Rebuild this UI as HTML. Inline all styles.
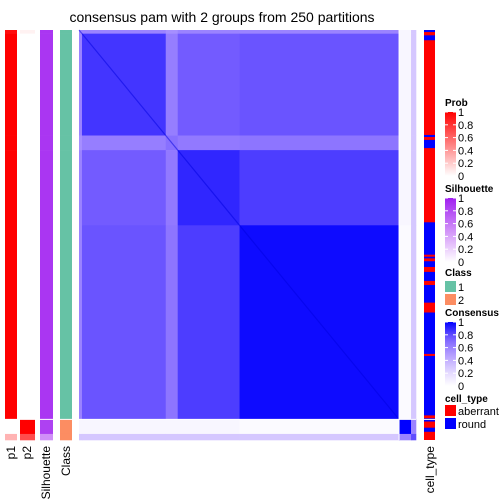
<!DOCTYPE html>
<html><head><meta charset="utf-8"><style>
body{margin:0;background:#fff;}
svg{display:block;font-family:"Liberation Sans",sans-serif;}
</style></head><body>
<svg id="c" width="504" height="504" xmlns="http://www.w3.org/2000/svg">
<text x="222" y="22" font-size="14" text-anchor="middle">consensus pam with 2 groups from 250 partitions</text>
<g id="hm"></g>
<g id="ann"></g>
<g id="leg"></g>
</svg>
<script>
// segment sizes (sample counts) in order
const segSizes = [3, 84, 12, 62, 160, 12, 5];
const segNames = ['a0','a','s','b','c','d','e'];
// consensus between segments
const consensus = [
 [0.6,0.6,0.55,0.6,0.6,0.05,0.3],
 [0.6,0.86,0.62,0.76,0.78,0.05,0.3],
 [0.55,0.62,0.68,0.64,0.66,0.05,0.3],
 [0.6,0.76,0.64,0.9,0.84,0.05,0.3],
 [0.6,0.78,0.66,0.84,0.97,0.03,0.3],
 [0.05,0.05,0.05,0.05,0.03,1.0,0.6],
 [0.3,0.3,0.3,0.3,0.3,0.6,0.8]
];
const p1Vals = [0.95,1,1,1,1,0,0.3];
const p2Vals = [0.05,0,0,0,0,1,0.7];
const silVals = [0.9,0.9,0.9,0.9,0.9,0.85,0.5];
const classVals = [1,1,1,1,1,2,2];
const cellTypeBlue = [[0,0.005],[0.013,0.025],[0.256,0.261],[0.268,0.288],[0.469,1]];
const cellTypeRed = [[0.548,0.553],[0.557,0.564],[0.578,0.590],[0.612,0.622],[0.665,0.689],[0.79,0.795],[0.94,0.947],[0.955,0.97],[0.98,1]];

const NS='http://www.w3.org/2000/svg';
function mk(t,a,p){const e=document.createElementNS(NS,t);for(const k in a)e.setAttribute(k,a[k]);p.appendChild(e);return e;}
function lerp(a,b,t){return a+(b-a)*t;}
const stops=[[0,[255,255,255]],[0.25,[222,210,255]],[0.5,[178,155,255]],[0.75,[120,95,255]],[1,[0,0,255]]];
function blue(v){for(let i=1;i<stops.length;i++){if(v<=stops[i][0]){const t=(v-stops[i-1][0])/(stops[i][0]-stops[i-1][0]);const a=stops[i-1][1],b=stops[i][1];return `rgb(${Math.round(lerp(a[0],b[0],t))},${Math.round(lerp(a[1],b[1],t))},${Math.round(lerp(a[2],b[2],t))})`;}}return 'blue';}
function red(v){return `rgb(255,${Math.round(255*(1-v))},${Math.round(255*(1-v))})`;}
function purple(v){return `rgb(${Math.round(lerp(255,160,v))},${Math.round(lerp(255,32,v))},${Math.round(lerp(255,240,v))})`;}

const X0=79,X1=416,Y0=30,Y1=440;
const total=segSizes.reduce((a,b)=>a+b,0);
const xs=[X0],ys=[Y0];
let acc=0;for(const s of segSizes){acc+=s;xs.push(X0+(X1-X0)*acc/total);ys.push(Y0+(Y1-Y0)*acc/total);}
const hm=document.getElementById('hm');
for(let i=0;i<segSizes.length;i++)for(let j=0;j<segSizes.length;j++){
  const r=mk('rect',{x:xs[j],y:ys[i],width:xs[j+1]-xs[j]+0.3,height:ys[i+1]-ys[i]+0.3,fill:blue(consensus[i][j])},hm);
  
  
}
const dl=mk('line',{x1:X0,y1:Y0,x2:xs[5],y2:ys[5],stroke:'#0000e0','stroke-width':1.2,opacity:0.5},hm);


mk('line',{x1:X0,y1:ys[5],x2:X1,y2:ys[5],stroke:'#fff','stroke-width':1},hm);
mk('line',{x1:xs[5],y1:Y0,x2:xs[5],y2:Y1,stroke:'#fff','stroke-width':1},hm);

const ann=document.getElementById('ann');
const cols=[['p1',5,17,p1Vals,red],['p2',20,35,p2Vals,red],['silhouette',40,53,silVals,purple],['class',60,72,classVals,v=>v==1?'#66c2a5':'#fc8d62']];
for(const [nm,a,b,vals,f] of cols){
  for(let i=0;i<segSizes.length;i++){
    const r=mk('rect',{x:a,y:ys[i],width:b-a,height:ys[i+1]-ys[i]+0.3,fill:f(vals[i])},ann);
    
    
  }
  mk('line',{x1:a,y1:ys[5],x2:b,y2:ys[5],stroke:'#fff','stroke-width':1},ann);
}
const ct=mk('rect',{x:424,y:Y0,width:11,height:Y1-Y0,fill:'#ff0000'},ann);


for(const [s,e] of cellTypeBlue){const r=mk('rect',{x:424,y:Y0+(Y1-Y0)*s,width:11,height:(Y1-Y0)*(e-s),fill:'#0000ff'},ann);
 }
for(const [s,e] of cellTypeRed){const r=mk('rect',{x:424,y:Y0+(Y1-Y0)*s,width:11,height:(Y1-Y0)*(e-s),fill:'#ff0000'},ann);
 }
mk('line',{x1:424,y1:ys[5],x2:435,y2:ys[5],stroke:'#fff','stroke-width':1},ann);

const labels=[['p1',15],['p2',31],['Silhouette',50],['Class',70],['cell_type',434]];
for(const [t,x] of labels){const e=mk('text',{x:x,y:446,'font-size':12,'text-anchor':'end',transform:`rotate(-90 ${x} 446)`},ann);e.textContent=t;
 }

const leg=document.getElementById('leg');
function title(t,y){const e=mk('text',{x:445,y:y,'font-size':10,'font-weight':'bold'},leg);e.textContent=t;
 }
const tickVals=[1,0.8,0.6,0.4,0.2,0];
function bar(y0,h,f,nm){
  const id='g'+nm;const d=mk('defs',{},leg);const lg=mk('linearGradient',{id:id,x1:0,y1:1,x2:0,y2:0},d);
  for(let k=0;k<=10;k++)mk('stop',{offset:k/10,'stop-color':f(k/10)},lg);
  const r=mk('rect',{x:445,y:y0,width:11,height:h,fill:`url(#${id})`},leg);
  
  tickVals.forEach((v,i)=>{const y=y0+h*(1-v);
    mk('line',{x1:445,y1:y,x2:448,y2:y,stroke:'#fff'},leg);mk('line',{x1:453,y1:y,x2:456,y2:y,stroke:'#fff'},leg);
    const t=mk('text',{x:458,y:y+4,'font-size':11},leg);t.textContent=String(v);
    });
}
title('Prob',106);bar(112,64,red,'prob');
title('Silhouette',192);bar(198,64,purple,'silhouette');
title('Class',276);
function sw(y,c,t,nm){const r=mk('rect',{x:445,y:y,width:11,height:11,fill:c},leg);
 const e=mk('text',{x:458,y:y+10,'font-size':11},leg);e.textContent=t;}
sw(281,'#66c2a5','1','class-1');sw(294,'#fc8d62','2','class-2');
title('Consensus',316);bar(322,64,blue,'consensus');
title('cell_type',402);
sw(405,'#ff0000','aberrant','aberrant');sw(418,'#0000ff','round','round');
</script>
</body></html>
